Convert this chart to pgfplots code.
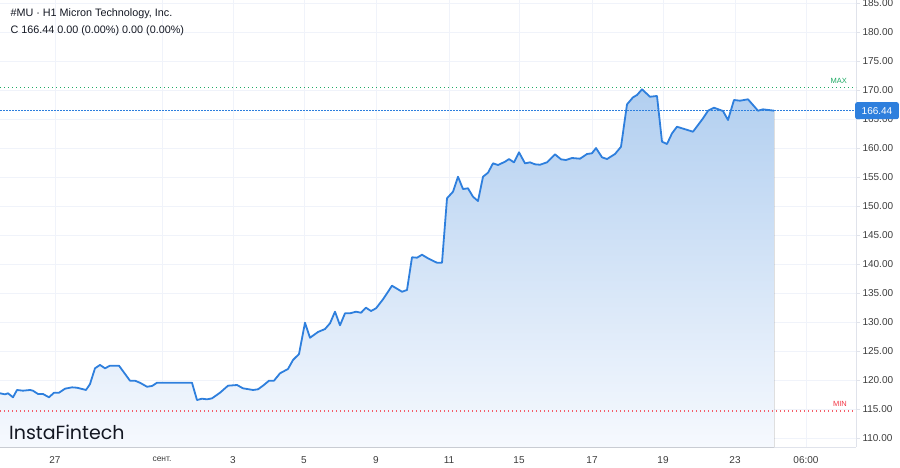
\documentclass[border=0pt]{standalone}
\usepackage{pgfplots}
\pgfplotsset{compat=1.18}
\usepgfplotslibrary{fillbetween}
\usepackage{fontspec}
\setmainfont{Liberation Sans}
\newfontfamily\logofont{Poppins}
\definecolor{linec}{RGB}{46,127,221}
\definecolor{filltop}{RGB}{178,207,240}
\definecolor{fillbot}{RGB}{246,249,254}
\definecolor{gridc}{RGB}{240,243,250}
\definecolor{axisc}{RGB}{224,227,235}
\definecolor{txt}{RGB}{19,23,34}
\definecolor{tick}{RGB}{60,60,60}
\definecolor{maxc}{RGB}{30,170,100}
\definecolor{minc}{RGB}{242,54,69}
\pgfplotstableread{
x y
0 117.71
5 117.53
8 117.71
13 117.02
17 118.28
23 118.16
30 118.28
33 118.16
38 117.59
43 117.59
49 117.02
54 117.81
59 117.81
65 118.50
72 118.74
77 118.67
86 118.28
90 119.31
95 122.02
100 122.59
105 122.02
110 122.47
119 122.47
130 119.88
135 119.88
140 119.53
147 118.84
152 118.97
157 119.53
192 119.53
197 116.55
202 116.78
207 116.67
212 116.84
220 117.81
228 119.02
237 119.14
243 118.57
253 118.28
258 118.40
263 119.02
269 119.88
274 119.88
280 121.16
288 121.90
293 123.45
299 124.48
305 129.88
310 127.29
318 128.28
325 128.79
330 129.78
335 131.78
340 129.43
345 131.50
350 131.50
356 131.78
361 131.60
366 132.47
371 131.90
376 132.36
383 133.91
392 136.26
402 135.22
407 135.52
412 141.16
417 141.09
422 141.60
428 140.98
437 140.22
442 140.22
447 151.33
453 152.47
458 155.05
463 152.93
468 153.05
473 151.60
478 150.86
483 155.05
488 155.74
493 157.36
498 157.07
505 157.64
509 158.10
514 157.53
519 159.26
525 157.36
530 157.53
535 157.19
540 157.12
547 157.53
555 158.91
561 158.05
566 157.93
572 158.28
580 158.16
587 158.97
592 159.09
596 160.00
602 158.40
607 158.10
615 158.97
621 160.22
627 167.53
633 168.74
637 169.14
642 170.12
650 168.84
657 168.97
662 161.09
667 160.69
672 162.53
677 163.67
693 162.81
703 165.12
708 166.43
714 166.95
723 166.38
728 164.83
734 168.28
740 168.16
748 168.40
758 166.43
763 166.67
774 166.44
}\pricedata
\begin{document}
\begin{tikzpicture}
\begin{axis}[
  at={(0pt,0pt)}, anchor=south west,
  scale only axis, width=856pt, height=447pt,
  xmin=0, xmax=856, ymin=108.45, ymax=185.52,
  axis x line*=bottom, axis y line*=right,
  axis line style={draw=axisc, line width=0.8pt},
  xtick={55,162,233,304,376,449,519,592,663,735,806},
  xticklabels={27,{\fontsize{8.5}{10}\selectfont сент.},3,5,9,11,15,17,19,23,06:00},
  ytick={110,115,...,185},
  yticklabel pos=right,
  grid=major, grid style={draw=gridc, line width=0.8pt},
  major tick length=4pt,
  tick style={draw=axisc, line width=0.8pt},
  tick align=outside,
  xtick style={draw=none},
  ticklabel style={font=\fontsize{10}{12}\selectfont, text=tick},
  xticklabel style={yshift=-2pt},
  yticklabel style={anchor=west, xshift=-1pt},
  /pgf/number format/.cd, fixed, fixed zerofill, precision=2, assume math mode=true,
  /pgfplots/.cd,
  clip mode=individual,
]
\addplot[draw=none, name path=price, forget plot] table {\pricedata};
\addplot[draw=none, name path=base, forget plot] coordinates {(0,108.45) (774,108.45)};
\addplot[top color=filltop, bottom color=fillbot, draw=none, forget plot] fill between[of=price and base];
\addplot[maxc, line width=1.2pt, dash pattern=on 1.1pt off 2.9pt, forget plot] coordinates {(0,170.47) (856,170.47)};
\addplot[minc!80, line width=1.1pt, dash pattern=on 1pt off 3pt, forget plot] coordinates {(0,114.66) (856,114.66)};
\addplot[linec, line width=1.1pt, dash pattern=on 1.6pt off 1.4pt, forget plot] coordinates {(0,166.44) (856,166.44)};
\addplot[linec, line width=1.8pt, line join=round, forget plot] table {\pricedata};
\node[anchor=south east, text=maxc, font=\fontsize{7.5}{8}\selectfont, inner sep=1pt] at (axis cs:848,171.0) {MAX};
\node[anchor=south east, text=minc, font=\fontsize{7.5}{8}\selectfont, inner sep=1pt] at (axis cs:848,115.2) {MIN};
\node[anchor=west, fill=linec, text=white, rounded corners=2pt, inner xsep=6.5pt, minimum height=17pt, font=\fontsize{10}{12}\selectfont] at (axis cs:855,166.44) {166.44};
\end{axis}
\node[anchor=west, text=txt, font=\fontsize{10.8}{12}\selectfont] at (7pt,433pt) {\#MU · H1 Micron Technology, Inc.};
\node[anchor=west, text=txt, font=\fontsize{10.8}{12}\selectfont] at (7pt,416pt) {C 166.44 0.00 (0.00\%) 0.00 (0.00\%)};
\node[anchor=west, text=txt, font=\logofont\fontsize{19}{22}\selectfont, inner sep=0pt] at (9pt,15pt) {InstaFintech};
\pgfresetboundingbox
\path[use as bounding box] (0pt,-20pt) rectangle (900pt,447pt);
\end{tikzpicture}
\end{document}
